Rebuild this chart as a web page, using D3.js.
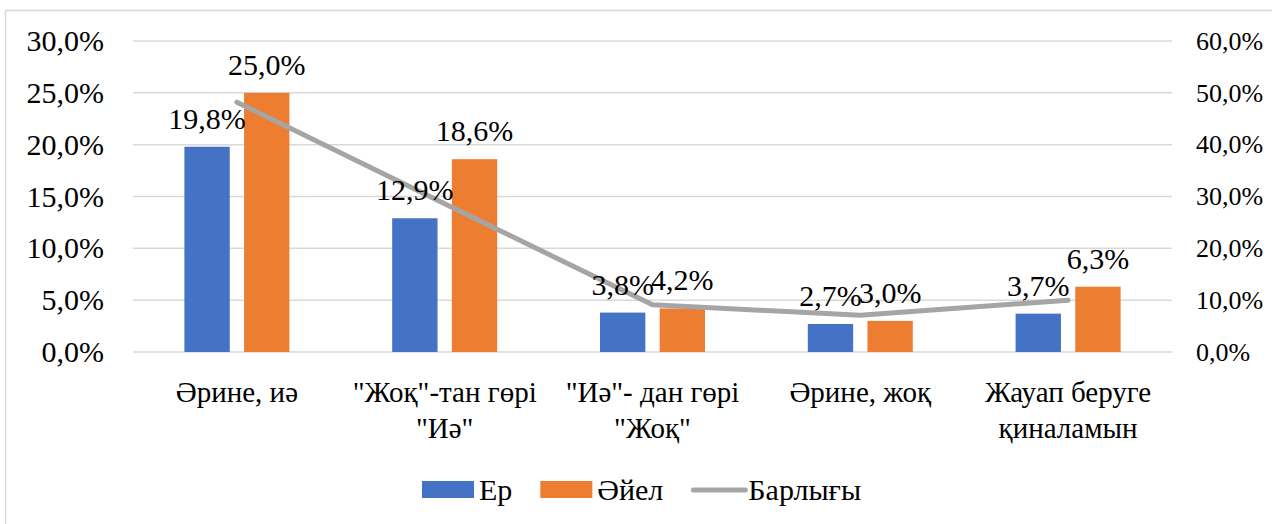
<!DOCTYPE html>
<html>
<head>
<meta charset="utf-8">
<script src="https://cdn.jsdelivr.net/npm/d3@7"></script>
<style>
  body { margin: 0; background: #fff; }
  text { font-family: "Liberation Serif", "Times New Roman", Tinos, "DejaVu Serif", serif; fill: #000; }
</style>
</head>
<body>
<div id="my_dataviz"></div>
<script>

// --------------------------------------------------------
// (1) Data
// --------------------------------------------------------

var categories = ["Әрине, иә", "\"Жоқ\"-тан гөрі \"Иә\"", "\"Иә\"- дан гөрі \"Жоқ\"", "Әрине, жоқ", "Жауап беруге қиналамын"]
var seriesNames = ["Ер", "Әйел", "Барлығы"]
var erValues = [19.8, 12.9, 3.8, 2.7, 3.7]
var ayelValues = [25.0, 18.6, 4.2, 3.0, 6.3]
var totalValues = [48.2, 28.6, 9.1, 7.1, 10.0]
var leftTicks = [0, 5, 10, 15, 20, 25, 30]
var rightTicks = [0, 10, 20, 30, 40, 50, 60]

// --------------------------------------------------------
// (2) Sizes
// --------------------------------------------------------

var svg_width = 1272
var svg_height = 524

const margin = { top: 41, right: 100, bottom: 172, left: 133 }
var width = svg_width - (margin.left + margin.right)
var height = svg_height - (margin.top + margin.bottom)

var colors = { "Ер": "#4472C4", "Әйел": "#ED7D31", "Барлығы": "#A5A5A5" }
const fmt = v => v.toFixed(1).replace(".", ",") + "%"
const serif = '"Liberation Serif", "Times New Roman", Tinos, "DejaVu Serif", serif'

const svgRoot = d3.select("#my_dataviz")
  .append("svg")
    .attr("width", svg_width)
    .attr("height", svg_height)

// chart border
svgRoot.append("rect")
  .attr("x", 5.5).attr("y", 10.5)
  .attr("width", 1400).attr("height", 700)
  .attr("fill", "none").attr("stroke", "#d9d9d9").attr("stroke-width", 1.5)

const svg = svgRoot.append("g")
  .attr("transform", `translate(${margin.left}, ${margin.top})`)

// --------------------------------------------------------
// (3) Scales
// --------------------------------------------------------

const x = d3.scaleBand().domain(categories).range([0, width])
const xInner = d3.scaleBand().domain(["Ер", "Әйел"])
  .range([x.bandwidth() / 2 - 52.5, x.bandwidth() / 2 + 52.5]).paddingInner(0.24)
const y = d3.scaleLinear().domain([0, 30]).range([height, 0])
const y2 = d3.scaleLinear().domain([0, 60]).range([height, 0])

// gridlines
svg.append("g")
  .selectAll("line")
  .data(leftTicks)
  .join("line")
    .attr("x1", 0).attr("x2", width)
    .attr("y1", d => y(d)).attr("y2", d => y(d))
    .attr("stroke", "#d9d9d9").attr("stroke-width", 1.5)

// left axis labels
svg.append("g")
  .call(d3.axisLeft(y).tickValues(leftTicks).tickFormat(fmt).tickSize(0).tickPadding(29))
  .call(g => g.select(".domain").remove())
  .selectAll("text")
    .style("font-size", "30px")
    .style("font-family", serif)

// right axis labels
svg.append("g")
  .attr("transform", `translate(${width}, 0)`)
  .call(d3.axisRight(y2).tickValues(rightTicks).tickFormat(fmt).tickSize(0).tickPadding(24))
  .call(g => g.select(".domain").remove())
  .selectAll("text")
    .style("font-size", "26px")
    .style("font-family", serif)

// --------------------------------------------------------
// (4) Bars
// --------------------------------------------------------

const barData = []
categories.forEach((c, i) => {
  barData.push({ cat: c, key: "Ер", value: erValues[i] })
  barData.push({ cat: c, key: "Әйел", value: ayelValues[i] })
})

svg.append("g")
  .selectAll("rect")
  .data(barData)
  .join("rect")
    .attr("x", d => x(d.cat) + xInner(d.key))
    .attr("y", d => y(d.value))
    .attr("width", xInner.bandwidth())
    .attr("height", d => height - y(d.value))
    .attr("fill", d => colors[d.key])

// --------------------------------------------------------
// (5) Line (right axis)
// --------------------------------------------------------

const line = d3.line()
  .x((d, i) => x(categories[i]) + x.bandwidth() / 2)
  .y(d => y2(d))

svg.append("path")
  .datum(totalValues)
  .attr("d", line)
  .attr("fill", "none")
  .attr("stroke", colors["Барлығы"])
  .attr("stroke-width", 5)
  .attr("stroke-linecap", "round")
  .attr("stroke-linejoin", "round")

// data labels
svg.append("g")
  .selectAll("text")
  .data(barData)
  .join("text")
    .attr("x", d => x(d.cat) + xInner(d.key) + xInner.bandwidth() / 2)
    .attr("y", d => y(d.value) - 18)
    .attr("text-anchor", "middle")
    .style("font-size", "30px")
    .text(d => fmt(d.value))

// --------------------------------------------------------
// (6) Category labels (wrapped)
// --------------------------------------------------------

const catG = svg.append("g")
categories.forEach(c => {
  const cx = x(c) + x.bandwidth() / 2
  const t = catG.append("text")
    .attr("x", cx)
    .attr("y", height + 50)
    .attr("text-anchor", "middle")
    .style("font-size", "29px")
  const words = c.split(" ")
  let tspan = t.append("tspan").attr("x", cx).attr("dy", 0)
  let cur = []
  words.forEach(w => {
    cur.push(w)
    tspan.text(cur.join(" "))
    if (tspan.node().getComputedTextLength() > 205 && cur.length > 1) {
      cur.pop()
      tspan.text(cur.join(" "))
      cur = [w]
      tspan = t.append("tspan").attr("x", cx).attr("dy", 36).text(w)
    }
  })
})

// --------------------------------------------------------
// (7) Legend
// --------------------------------------------------------

const legend = svgRoot.append("g").attr("transform", "translate(422, 488)")
let lx = 0
seriesNames.forEach(name => {
  const g = legend.append("g").attr("transform", `translate(${lx}, 0)`)
  if (name === "Барлығы") {
    g.append("line")
      .attr("x1", 2).attr("x2", 54).attr("y1", 2).attr("y2", 2)
      .attr("stroke", colors[name]).attr("stroke-width", 5).attr("stroke-linecap", "round")
  } else {
    g.append("rect")
      .attr("x", 0).attr("y", -7).attr("width", 52).attr("height", 17)
      .attr("fill", colors[name])
  }
  const t = g.append("text")
    .attr("x", 57).attr("y", 12)
    .style("font-size", "30px")
    .text(name)
  lx += 57 + t.node().getComputedTextLength() + 28
})

</script>
</body>
</html>
